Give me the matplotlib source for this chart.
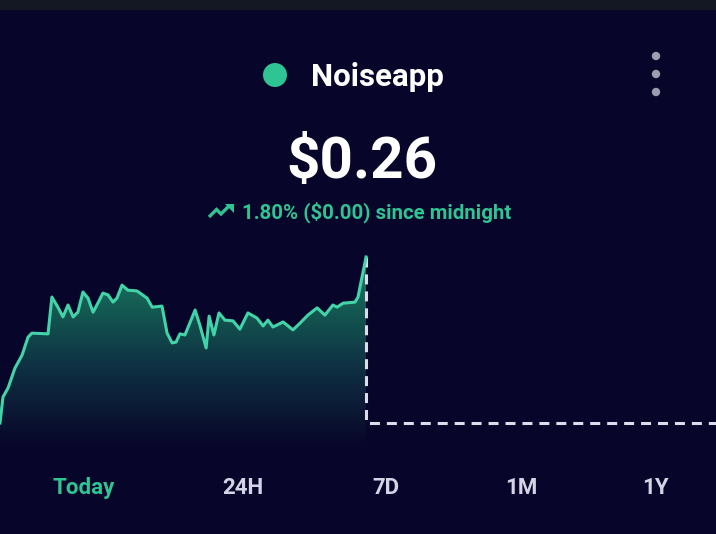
import numpy as np
import matplotlib
matplotlib.use("Agg")
import matplotlib.pyplot as plt
from matplotlib.colors import LinearSegmentedColormap
from matplotlib.patches import Circle, Rectangle, Polygon

plt.rcParams['lines.scale_dashes'] = False

# ---- data ----
hours = [0.00, 0.10, 0.27, 0.50, 0.74, 0.94, 1.07, 1.61, 1.74, 1.94,
         2.11, 2.28, 2.45, 2.61, 2.78, 2.95, 3.12, 3.28, 3.45, 3.62,
         3.79, 3.92, 4.09, 4.29, 4.59, 4.93, 5.10, 5.43, 5.60, 5.77,
         5.90, 6.03, 6.20, 6.54, 6.70, 6.91, 7.01, 7.17, 7.34, 7.54,
         7.81, 8.04, 8.31, 8.61, 8.82, 8.98, 9.15, 9.49, 9.82, 10.06,
         10.32, 10.63, 10.89, 11.16, 11.30, 11.50, 11.90, 12.00, 12.27]
prices = [0.25540, 0.25612, 0.25637, 0.25692, 0.25728, 0.25778, 0.25789, 0.25787, 0.25889, 0.25861,
          0.25834, 0.25867, 0.25834, 0.25847, 0.25903, 0.25886, 0.25847, 0.25872, 0.25900, 0.25895,
          0.25875, 0.25886, 0.25922, 0.25908, 0.25906, 0.25886, 0.25861, 0.25864, 0.25789, 0.25762,
          0.25764, 0.25787, 0.25784, 0.25853, 0.25811, 0.25748, 0.25836, 0.25784, 0.25845, 0.25825,
          0.25823, 0.25800, 0.25845, 0.25831, 0.25809, 0.25825, 0.25806, 0.25820, 0.25798, 0.25817,
          0.25839, 0.25859, 0.25839, 0.25867, 0.25861, 0.25872, 0.25875, 0.25889, 0.26000]
open_price = 0.25540
day_hours = 24
coin_name = "Noiseapp"
price_label = "$0.26"
change_label = "1.80% ($0.00) since midnight"
tabs = ["Today", "24H", "7D", "1M", "1Y"]
tab_x = [84, 243, 386, 521, 655]

BG = "#08052a"
GREEN = "#2ec493"
LINE = "#42d4a8"
WHITE = "#ffffff"
TAB = "#d4d4e6"

W, H = 716, 534
fig = plt.figure(figsize=(W / 100, H / 100), dpi=100, facecolor=BG)

# overlay in pixel coordinates for the decorations / text
ov = fig.add_axes([0, 0, 1, 1])
ov.set_xlim(0, W)
ov.set_ylim(H, 0)
ov.axis("off")
ov.set_facecolor(BG)
ov.add_patch(Rectangle((0, 0), W, 10, color="#141822", lw=0))

# ---- chart axes ----
top_px, bot_px = 245, 446
ax = fig.add_axes([0, 1 - bot_px / H, 1, (bot_px - top_px) / H])
ax.axis("off")
ax.patch.set_alpha(0)
ppx = 0.0046 / 166.0
ymin = open_price - (bot_px - 423) * ppx
ymax = max(prices) + (257 - top_px) * ppx
ax.set_xlim(0, day_hours)
ax.set_ylim(ymin, ymax)

x = np.array(hours)
y = np.array(prices)
fill = ax.fill_between(x, y, ymin, color="none", lw=0)
cmap = LinearSegmentedColormap.from_list(
    "g", [(0.0, BG), (0.12, "#0a1230"), (0.4, "#0e2e42"), (0.7, "#135650"), (1.0, "#1c8069")])
grad = np.linspace(0, 1, 256).reshape(-1, 1)
im = ax.imshow(grad, cmap=cmap, aspect="auto", origin="lower",
               extent=[0, x.max(), ymin, y.max()], zorder=1)
im.set_clip_path(fill.get_paths()[0], transform=ax.transData)
ax.plot(x, y, color=LINE, lw=2.2, zorder=3, solid_joinstyle="round")
ax.plot([x[-1], x[-1], day_hours], [y[-1], open_price, open_price],
        color="#dcdcec", lw=2.2, dashes=(7.2, 5.0), zorder=2)
ax.set_xlim(0, day_hours)
ax.set_ylim(ymin, ymax)

# ---- header ----
ov.add_patch(Circle((275, 75), 12, color=GREEN, lw=0))
ov.text(311, 77, coin_name, color=WHITE, fontsize=22.5, fontweight="bold",
        family="Roboto", ha="left", va="center")
for yy in (56, 74, 92):
    ov.add_patch(Circle((656, yy), 4.2, color="#9c9cae", lw=0))
ov.text(362, 162, price_label, color=WHITE, fontsize=42, fontweight="bold",
        family="Roboto", ha="center", va="center")
ov.text(242, 212, change_label, color=GREEN, fontsize=14.7, fontweight="bold",
        family="Roboto", ha="left", va="center")
# trending-up icon
ov.plot([209, 216.5, 221, 230], [217, 209.5, 214, 205], color=GREEN, lw=2.4,
        solid_joinstyle="miter", solid_capstyle="butt")
ov.add_patch(Polygon([[225, 203.5], [234, 203.5], [234, 212.5]], closed=True,
                     color=GREEN, lw=0))

# ---- tabs ----
for i, (t, tx) in enumerate(zip(tabs, tab_x)):
    ov.text(tx, 488, t, color=GREEN if i == 0 else TAB, fontsize=16,
            fontweight="bold", family="Roboto", ha="center", va="center")

fig.savefig("out.png", dpi=100, facecolor=BG)
